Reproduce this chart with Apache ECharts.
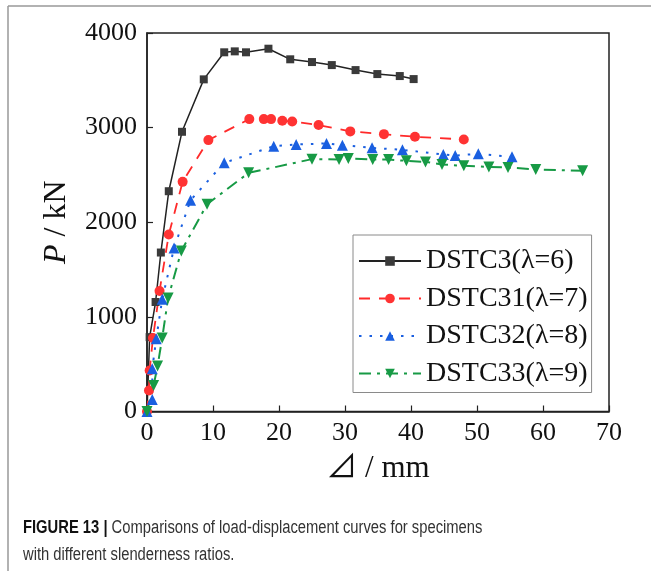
<!DOCTYPE html>
<html>
<head>
<meta charset="utf-8">
<script src="https://cdn.jsdelivr.net/npm/echarts@6/dist/echarts.min.js"></script>
<style>
html,body{margin:0;padding:0;background:#fff;}
#chart{width:651px;height:571px;}
</style>
</head>
<body>
<div id="chart"></div>
<script>
// ---- data ----
var seriesNames = ['DSTC3(λ=6)', 'DSTC31(λ=7)', 'DSTC32(λ=8)', 'DSTC33(λ=9)'];

var dstc3X = [0, 0.4, 1.3, 2.1, 3.3, 5.3, 8.6, 11.7, 13.3, 15.0, 18.4, 21.7, 25.0, 28.0, 31.6, 34.9, 38.3, 40.4];
var dstc3P = [0, 786, 1157, 1680, 2328, 2956, 3510, 3796, 3806, 3796, 3834, 3722, 3693, 3661, 3608, 3566, 3545, 3513];

var dstc31X = [0, 0.3, 0.4, 0.9, 1.9, 3.3, 5.4, 9.3, 15.5, 17.7, 18.8, 20.5, 22.0, 26.0, 30.8, 35.9, 40.6, 48.0];
var dstc31P = [0, 222, 434, 776, 1273, 1870, 2427, 2868, 3090, 3090, 3090, 3072, 3065, 3027, 2960, 2931, 2903, 2875];

var dstc32X = [0, 0.8, 0.8, 1.4, 2.3, 4.1, 6.6, 11.7, 19.2, 22.6, 27.2, 29.6, 34.1, 38.7, 44.9, 46.7, 50.2, 55.3];
var dstc32P = [0, 127, 452, 769, 1185, 1728, 2233, 2628, 2804, 2822, 2833, 2815, 2786, 2765, 2716, 2705, 2723, 2691];

var dstc33X = [0, 1.0, 1.6, 2.3, 3.2, 5.2, 9.1, 15.4, 25.0, 29.1, 30.5, 34.2, 36.6, 39.3, 42.2, 44.7, 48.0, 51.8, 54.7, 58.9, 66.0];
var dstc33P = [0, 275, 480, 776, 1199, 1697, 2190, 2522, 2667, 2663, 2674, 2663, 2663, 2649, 2638, 2611, 2596, 2585, 2579, 2558, 2543];

var xTicks = [0, 10, 20, 30, 40, 50, 60, 70];
var yTicks = [0, 1000, 2000, 3000, 4000];

var xAxisName = '⊿ / mm';
var captionBold = 'FIGURE 13 |';
var captionLine1 = ' Comparisons of load-displacement curves for specimens';
var captionLine2 = 'with different slenderness ratios.';

function pairs(xs, ys) { return xs.map(function (x, i) { return [x, ys[i]]; }); }

var serif = "'Liberation Serif', 'Times New Roman', 'DejaVu Serif', 'Noto Sans CJK SC', serif";
var sans = "'Liberation Sans', Arial, sans-serif";
var axisColor = '#222';

var chart = echarts.init(document.getElementById('chart'), null, {renderer: 'canvas'});
chart.setOption({
  backgroundColor: '#fff',
  animation: false,
  grid: {
    left: 147, top: 33, right: 42, bottom: 159.5,
    show: true, borderColor: axisColor, borderWidth: 1.5, backgroundColor: 'transparent'
  },
  xAxis: {
    type: 'value', min: xTicks[0], max: xTicks[xTicks.length - 1], interval: 10,
    name: xAxisName, nameLocation: 'middle', nameGap: 42,
    nameTextStyle: {fontFamily: serif, fontSize: 31, color: '#111'},
    axisLine: {lineStyle: {color: axisColor, width: 1.5}},
    axisTick: {inside: true, length: 6, lineStyle: {color: axisColor, width: 1.2}},
    axisLabel: {fontFamily: serif, fontSize: 26, color: '#111', margin: 9,
      formatter: function (v) { return String(v); }},
    splitLine: {show: false}
  },
  yAxis: {
    type: 'value', min: yTicks[0], max: yTicks[yTicks.length - 1], interval: 1000,
    name: '{i|P} / kN', nameLocation: 'middle', nameGap: 74,
    nameTextStyle: {fontFamily: serif, fontSize: 32, color: '#111',
      rich: {i: {fontFamily: serif, fontSize: 32, fontStyle: 'italic', color: '#111'}}},
    axisLine: {show: true, lineStyle: {color: axisColor, width: 1.5}},
    axisTick: {show: true, inside: true, length: 6, lineStyle: {color: axisColor, width: 1.2}},
    axisLabel: {fontFamily: serif, fontSize: 26, color: '#111', margin: 10,
      formatter: function (v) { return String(v); }},
    splitLine: {show: false}
  },
  legend: {
    orient: 'vertical', left: 353, top: 235,
    padding: [11, 4, 4, 5], itemGap: 7.5, itemWidth: 62, itemHeight: 12,
    backgroundColor: '#fff', borderColor: '#8a8a8a', borderWidth: 1,
    textStyle: {fontFamily: serif, fontSize: 28, color: '#111', lineHeight: 30},
    data: seriesNames
  },
  series: [
    {
      name: seriesNames[0], type: 'line', data: pairs(dstc3X, dstc3P),
      symbol: 'rect', symbolSize: 8,
      lineStyle: {color: '#222', width: 1.5, type: 'solid'},
      itemStyle: {color: '#3a3a3a'}
    },
    {
      name: seriesNames[1], type: 'line', data: pairs(dstc31X, dstc31P),
      symbol: 'circle', symbolSize: 10,
      lineStyle: {color: '#ff2a2a', width: 1.8, type: [11, 9]},
      itemStyle: {color: '#ff3333'}
    },
    {
      name: seriesNames[2], type: 'line', data: pairs(dstc32X, dstc32P),
      symbol: 'triangle', symbolSize: 11,
      lineStyle: {color: '#1a5fe0', width: 2, type: [2.5, 8]},
      itemStyle: {color: '#1a5fe0'}
    },
    {
      name: seriesNames[3], type: 'line', data: pairs(dstc33X, dstc33P),
      symbol: 'triangle', symbolRotate: 180, symbolSize: 11,
      lineStyle: {color: '#179a45', width: 2, type: [12, 6, 3, 6]},
      itemStyle: {color: '#179a45'}
    }
  ],
  graphic: [
    {type: 'line', shape: {x1: 8, y1: 6, x2: 651, y2: 6}, style: {stroke: '#999', lineWidth: 1.5}},
    {type: 'line', shape: {x1: 8, y1: 6, x2: 8, y2: 571}, style: {stroke: '#999', lineWidth: 1.5}},
    {
      type: 'text', left: 23, top: 519, scaleX: 0.82,
      style: {
        text: '{b|' + captionBold + '}{r|' + captionLine1 + '}',
        rich: {
          b: {fontFamily: sans, fontSize: 18, fontWeight: 'bold', fill: '#111'},
          r: {fontFamily: sans, fontSize: 18, fill: '#333'}
        }
      }
    },
    {
      type: 'text', left: 23, top: 546, scaleX: 0.82,
      style: {text: captionLine2, fontFamily: sans, fontSize: 18, fill: '#333'}
    }
  ]
});
</script>
</body>
</html>
